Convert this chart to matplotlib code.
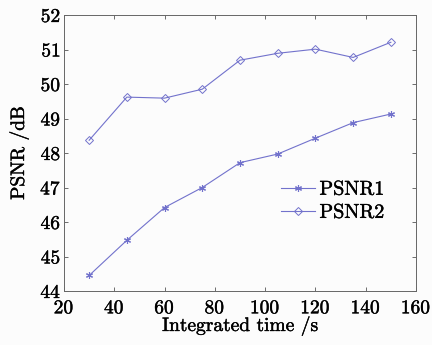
import matplotlib
matplotlib.use("Agg")
import matplotlib.pyplot as plt
import matplotlib.patheffects as pe

plt.rcParams.update({"font.family": "serif", "font.serif": ["cmr10", "DejaVu Serif"],
                     "axes.formatter.use_mathtext": True, "mathtext.fontset": "cm",
                     "font.size": 11.5})

t = [30, 45, 60, 75, 90, 105, 120, 135, 150]
psnr1 = [44.45, 45.47, 46.42, 47.00, 47.72, 47.97, 48.43, 48.88, 49.13]
psnr2 = [48.37, 49.62, 49.59, 49.85, 50.69, 50.89, 51.01, 50.77, 51.21]
C = "#7272cc"
BOLD = [pe.withStroke(linewidth=0.3, foreground="black")]

fig = plt.figure(figsize=(4.32, 3.45), dpi=100, facecolor="#fcfcfc")
ax = fig.add_axes([64/432, 1 - 291/345, 352/432, 276/345])
ax.set_facecolor("#fcfcfc")
ax.plot(t, psnr1, color=C, lw=0.8, marker=(6, 2, 0), ms=5, mew=0.8, label="PSNR1")
ax.plot(t, psnr2, color=C, lw=0.8, marker="D", ms=4, mfc="none", mew=0.7, label="PSNR2")
ax.set_xlim(20, 160); ax.set_ylim(44, 52)
ax.set_xticks(range(20, 161, 20)); ax.set_yticks(range(44, 53))
ax.tick_params(direction="in", top=True, right=True, length=3, width=0.6, colors="#555555",
               labelcolor="black", labelsize=14)
ax.tick_params(axis="x", pad=6)
ax.tick_params(axis="y", pad=2)
for s in ax.spines.values():
    s.set_color("#666666"); s.set_linewidth(0.7)
ax.set_xlabel("Integrated time /s", fontsize=14, labelpad=-1)
ax.set_ylabel("PSNR /dB", fontsize=14, labelpad=8)
leg = ax.legend(loc="upper left", bbox_to_anchor=(0.617, 0.40), frameon=False, fontsize=14.5,
                handlelength=1.7, handletextpad=0.2, labelspacing=0.25, borderaxespad=0,
                borderpad=0)
for txt in ax.get_xticklabels() + ax.get_yticklabels() + leg.get_texts() + \
        [ax.xaxis.label, ax.yaxis.label]:
    txt.set_path_effects(BOLD)
fig.savefig("out.png", dpi=100, facecolor=fig.get_facecolor())
